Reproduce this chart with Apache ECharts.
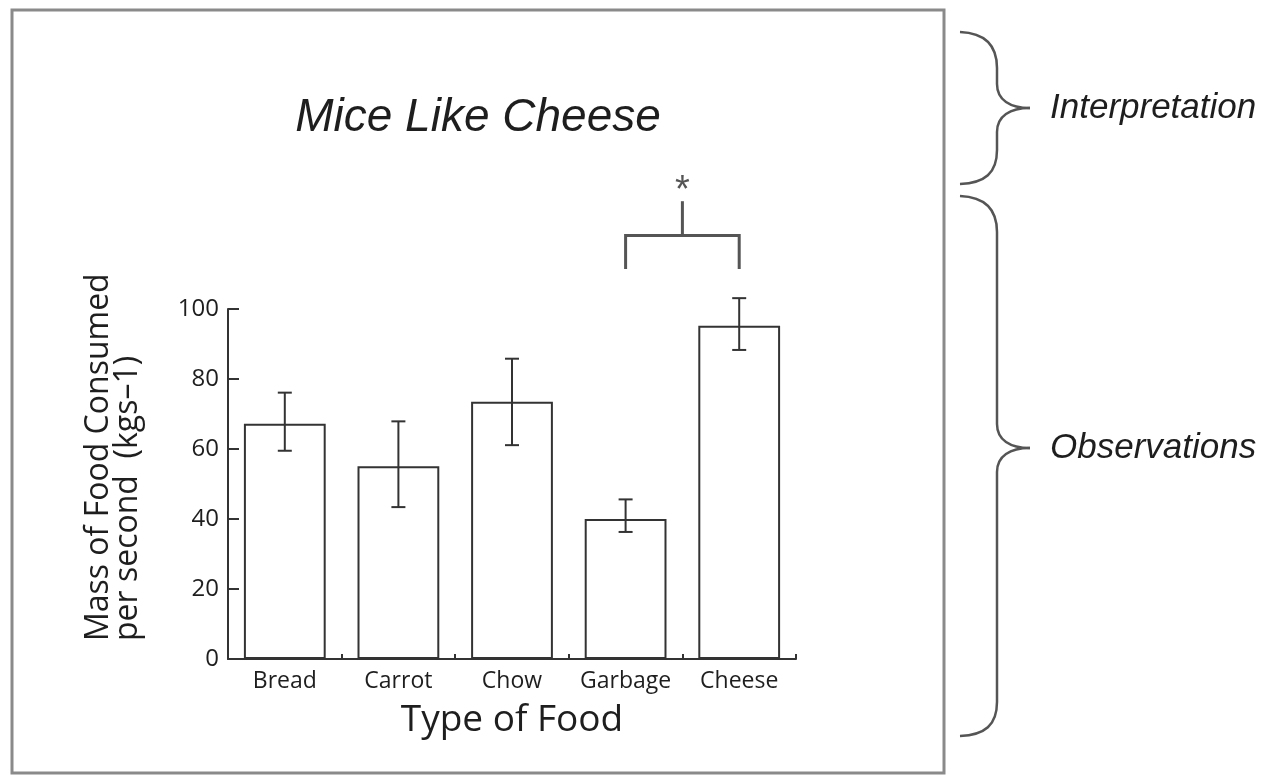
<!DOCTYPE html>
<html>
<head>
<meta charset="utf-8">
<script src="https://cdn.jsdelivr.net/npm/echarts@6/dist/echarts.min.js"></script>
<style>
  html, body { margin: 0; padding: 0; background: #fff; }
  #chart { width: 1265px; height: 775px; }
</style>
</head>
<body>
<div id="chart"></div>
<script>
// Food types and mean mass consumed per second, with error bar bounds
const categories = ['Bread', 'Carrot', 'Chow', 'Garbage', 'Cheese'];
const means      = [67.2, 55.1, 73.5, 40.0, 95.2];
const errLow     = [59.5, 43.4, 61.1, 36.3, 88.3];
const errHigh    = [76.1, 67.9, 85.8, 45.6, 103.1];
const yTicks     = [0, 20, 40, 60, 80, 100];

// Significance bracket between two groups (value-axis levels)
const sigPair      = ['Garbage', 'Cheese'];
const sigLegLow    = 111.4;
const sigBarLevel  = 121;
const sigStemTop   = 130.8;
const sigStarLevel = 133.5;

const INK = '#333';
const TEXT = '#1e1e1e';
const SANS = '"Open Sans", "Noto Sans", sans-serif';
const BRACE_STYLE = { fill: null, stroke: '#555', lineWidth: 2.5 };

// Curly brace opening to the right: spans top..bottom, points at tipY
function brace(x0, xs, xt, top, bottom, tipY) {
  const seg = (s) => Object.assign({ silent: true, style: BRACE_STYLE }, s);
  return {
    type: 'group',
    children: [
      seg({ type: 'bezierCurve', shape: { x1: x0, y1: top, cpx1: x0 + 25, cpy1: top + 1, cpx2: xs, cpy2: top + 13, x2: xs, y2: top + 36 } }),
      seg({ type: 'line', shape: { x1: xs, y1: top + 36, x2: xs, y2: tipY - 24 } }),
      seg({ type: 'bezierCurve', shape: { x1: xs, y1: tipY - 24, cpx1: xs, cpy1: tipY - 8, cpx2: xs + 13, cpy2: tipY, x2: xt, y2: tipY } }),
      seg({ type: 'bezierCurve', shape: { x1: xt, y1: tipY, cpx1: xs + 13, cpy1: tipY, cpx2: xs, cpy2: tipY + 8, x2: xs, y2: tipY + 24 } }),
      seg({ type: 'line', shape: { x1: xs, y1: tipY + 24, x2: xs, y2: bottom - 34 } }),
      seg({ type: 'bezierCurve', shape: { x1: xs, y1: bottom - 34, cpx1: xs, cpy1: bottom - 11, cpx2: x0 + 25, cpy2: bottom - 1, x2: x0, y2: bottom } })
    ]
  };
}

const chart = echarts.init(document.getElementById('chart'), null, { renderer: 'canvas' });

const option = {
  backgroundColor: '#fff',
  animation: false,
  grid: { left: 228, right: 469, top: 309, bottom: 116, containLabel: false },
  xAxis: {
    type: 'category',
    data: categories,
    boundaryGap: true,
    axisLine: { lineStyle: { color: INK, width: 2 } },
    axisTick: { show: true, interval: 0, inside: true, length: 5, lineStyle: { color: INK, width: 2 } },
    axisLabel: { interval: 0, color: TEXT, fontFamily: SANS, fontSize: 23, margin: 11 },
    name: 'Type of Food',
    nameLocation: 'middle',
    nameGap: 43,
    nameTextStyle: { color: TEXT, fontFamily: SANS, fontSize: 37 }
  },
  yAxis: {
    type: 'value',
    min: yTicks[0],
    max: yTicks[yTicks.length - 1],
    interval: yTicks[1] - yTicks[0],
    axisLine: { show: true, lineStyle: { color: INK, width: 2 } },
    axisTick: { show: true, inside: true, length: 11, lineStyle: { color: INK, width: 2 } },
    axisLabel: { color: TEXT, fontFamily: SANS, fontSize: 24, margin: 9 },
    splitLine: { show: false }
  },
  series: [
    {
      name: 'Mean',
      type: 'bar',
      data: means,
      barWidth: '72%',
      itemStyle: { color: '#fff', borderColor: INK, borderWidth: 2 },
      z: 2
    },
    {
      name: 'Error',
      type: 'custom',
      clip: false,
      z: 3,
      data: categories.map((c, i) => [i, errLow[i], errHigh[i]]),
      renderItem: function (params, api) {
        const i = api.value(0);
        const lo = api.coord([i, api.value(1)]);
        const hi = api.coord([i, api.value(2)]);
        const cap = 7;
        const style = { stroke: INK, lineWidth: 2, fill: null };
        return {
          type: 'group',
          children: [
            { type: 'line', shape: { x1: hi[0], y1: hi[1], x2: lo[0], y2: lo[1] }, style },
            { type: 'line', shape: { x1: hi[0] - cap, y1: hi[1], x2: hi[0] + cap, y2: hi[1] }, style },
            { type: 'line', shape: { x1: lo[0] - cap, y1: lo[1], x2: lo[0] + cap, y2: lo[1] }, style }
          ]
        };
      }
    },
    {
      name: 'Significance',
      type: 'custom',
      clip: false,
      z: 3,
      data: [[categories.indexOf(sigPair[0]), categories.indexOf(sigPair[1])]],
      renderItem: function (params, api) {
        const a = api.value(0), b = api.value(1);
        const aLow = api.coord([a, sigLegLow]);
        const aBar = api.coord([a, sigBarLevel]);
        const bLow = api.coord([b, sigLegLow]);
        const bBar = api.coord([b, sigBarLevel]);
        const midX = (aBar[0] + bBar[0]) / 2;
        const stemTop = api.coord([a, sigStemTop])[1];
        const starY = api.coord([a, sigStarLevel])[1];
        const style = { stroke: '#555', lineWidth: 3, fill: null };
        return {
          type: 'group',
          children: [
            { type: 'polyline', shape: { points: [aLow, aBar, bBar, bLow] }, style },
            { type: 'line', shape: { x1: midX, y1: aBar[1], x2: midX, y2: stemTop }, style },
            { type: 'text', x: midX, y: starY,
              style: { text: '*', fill: '#555', font: '38px "Liberation Sans", Arial, sans-serif',
                       textAlign: 'center', textVerticalAlign: 'middle' } }
          ]
        };
      }
    }
  ],
  graphic: [
    // Outer frame around the figure panel
    { type: 'rect', z: 0, silent: true,
      shape: { x: 12, y: 10, width: 932, height: 763 },
      style: { fill: null, stroke: '#8a8a8a', lineWidth: 3 } },
    // Title
    { type: 'text', x: 478, y: 118,
      style: { text: 'Mice Like Cheese', fill: TEXT,
               font: 'italic 46px "Liberation Sans", Arial, sans-serif',
               textAlign: 'center', textVerticalAlign: 'middle' } },
    // Value-axis title, two lines reading upward
    { type: 'text', x: 84, y: 641, rotation: Math.PI / 2,
      style: { text: 'Mass of Food Consumed\nper second  (kgs\u20131)', fill: TEXT,
               font: '32px ' + SANS, lineHeight: 29,
               textAlign: 'left', textVerticalAlign: 'top' } },
    // Right-hand braces and their labels
    brace(960, 997, 1030, 32, 184, 108),
    brace(960, 997, 1030, 196, 736, 448),
    { type: 'text', x: 1050, y: 108,
      style: { text: 'Interpretation', fill: TEXT,
               font: 'italic 35px "Liberation Sans", Arial, sans-serif',
               textAlign: 'left', textVerticalAlign: 'middle' } },
    { type: 'text', x: 1050, y: 448,
      style: { text: 'Observations', fill: TEXT,
               font: 'italic 35px "Liberation Sans", Arial, sans-serif',
               textAlign: 'left', textVerticalAlign: 'middle' } }
  ]
};

chart.setOption(option);
</script>
</body>
</html>
